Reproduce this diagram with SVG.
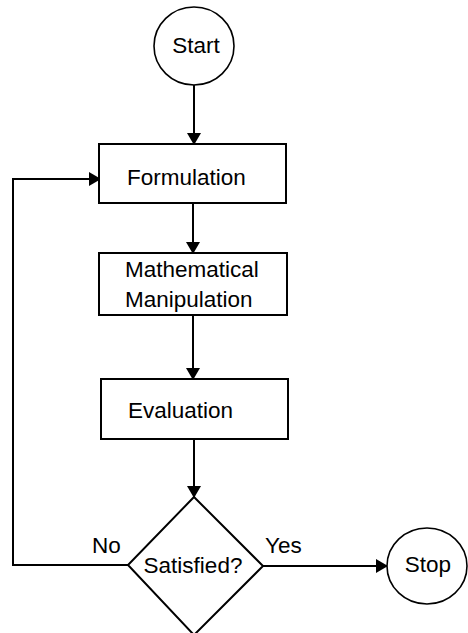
<svg xmlns="http://www.w3.org/2000/svg" width="468" height="633" viewBox="0 0 468 633">
<style>
.shape{fill:#fff;stroke:#000;stroke-width:2}
.term{fill:#fff;stroke:#000;stroke-width:1.6}
.line{fill:none;stroke:#000;stroke-width:2}
text{font-family:"Liberation Sans",Arial,sans-serif;font-size:22.5px;fill:#000}
</style>
<defs>
<marker id="arr" markerWidth="14" markerHeight="14" refX="11" refY="7" orient="auto" markerUnits="userSpaceOnUse">
<path d="M0,0 L12,7 L0,14 Z" fill="#000"/>
</marker>
</defs>
<rect width="468" height="633" fill="#fff"/>
<g id="connectors">
<line class="line" x1="194" y1="85" x2="194" y2="144" marker-end="url(#arr)"/>
<line class="line" x1="193" y1="203" x2="193" y2="253" marker-end="url(#arr)"/>
<line class="line" x1="193" y1="315" x2="193" y2="379" marker-end="url(#arr)"/>
<line class="line" x1="194" y1="439" x2="194" y2="497" marker-end="url(#arr)"/>
<polyline class="line" points="128,565 13,565 13,179 100,179" marker-end="url(#arr)"/>
<line class="line" x1="263" y1="566" x2="387" y2="566" marker-end="url(#arr)"/>
<text x="92" y="553">No</text>
<text x="265" y="553">Yes</text>
</g>
<g id="start">
<ellipse class="term" cx="194" cy="46" rx="40" ry="39"/>
<text x="196" y="53" text-anchor="middle">Start</text>
</g>
<g id="formulation">
<rect class="shape" x="99" y="144" width="187" height="59"/>
<text x="127" y="185">Formulation</text>
</g>
<g id="manipulation">
<rect class="shape" x="99" y="253" width="188" height="62"/>
<text x="125" y="277">Mathematical</text>
<text x="125" y="307">Manipulation</text>
</g>
<g id="evaluation">
<rect class="shape" x="101" y="379" width="187" height="60"/>
<text x="128" y="418">Evaluation</text>
</g>
<g id="satisfied">
<polygon class="shape" points="194,497 263,566 194,635 128,565"/>
<text x="193" y="573" text-anchor="middle">Satisfied?</text>
</g>
<g id="stop">
<ellipse class="term" cx="427" cy="566" rx="40" ry="38"/>
<text x="428" y="572" text-anchor="middle">Stop</text>
</g>
</svg>
